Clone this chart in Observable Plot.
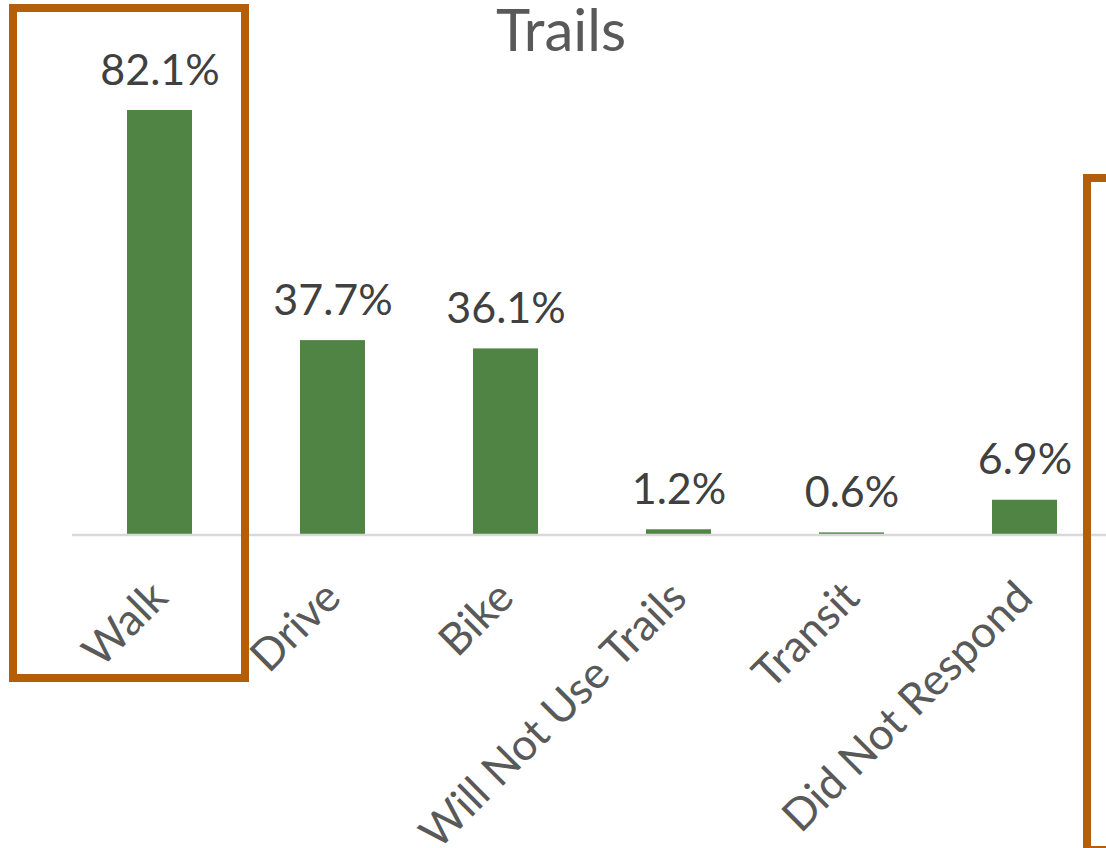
<!DOCTYPE html>
<html>
<head>
<meta charset="utf-8">
<script src="https://cdn.jsdelivr.net/npm/d3@7"></script>
<script src="https://cdn.jsdelivr.net/npm/@observablehq/plot@0.6"></script>
<style>
  html, body { margin: 0; padding: 0; background: #fff; overflow: hidden; }
  #wrap { position: relative; width: 1106px; height: 848px; overflow: hidden; font-family: Lato, "Open Sans", sans-serif; }
  #title { position: absolute; left: 8px; top: 0; width: 1106px; text-align: center; font-size: 58px; color: #595959; line-height: 58px; font-family: Lato, sans-serif; }
  .box { position: absolute; box-sizing: border-box; border: 8px solid #b35e08; }
  #box1 { left: 9px; top: 4px; width: 240px; height: 678px; }
  #box2 { left: 1083px; top: 174px; width: 100px; height: 680px; }
</style>
</head>
<body>
<div id="wrap">
  <div id="chart"></div>
  <div id="title">Trails</div>
  <div class="box" id="box1"></div>
  <div class="box" id="box2"></div>
</div>
<script>
const categories = ["Walk", "Drive", "Bike", "Will Not Use Trails", "Transit", "Did Not Respond"];
const values = [82.1, 37.7, 36.1, 1.2, 0.6, 6.9];
const valueLabels = ["82.1%", "37.7%", "36.1%", "1.2%", "0.6%", "6.9%"];

const data = categories.map((c, i) => ({category: c, value: values[i], label: valueLabels[i]}));

const chart = Plot.plot({
  width: 1106,
  height: 848,
  marginTop: 110,
  marginBottom: 312.5,
  marginLeft: 72,
  marginRight: 0,
  style: {fontFamily: "Lato, sans-serif", background: "transparent"},
  x: {domain: categories, range: [72, 1111], padding: 0},
  y: {domain: [0, 82.1], nice: false, axis: null},
  marks: [
    Plot.barY(data, {x: "category", y: "value", fill: "#4f8444", insetLeft: 54, insetRight: 54}),
    Plot.ruleY([0], {stroke: "#d9d9d9", strokeWidth: 2.4, dy: -1}),
    Plot.text(data, {x: "category", y: "value", text: "label", lineAnchor: "bottom", dy: -26, fontSize: 43, fill: "#404040"}),
    Plot.axisX({tickRotate: -45, tickSize: 0, tickPadding: 54, fontSize: 44, fill: "#595959", label: null, dx: 0})
  ]
});
document.getElementById("chart").appendChild(chart);
</script>
</body>
</html>
